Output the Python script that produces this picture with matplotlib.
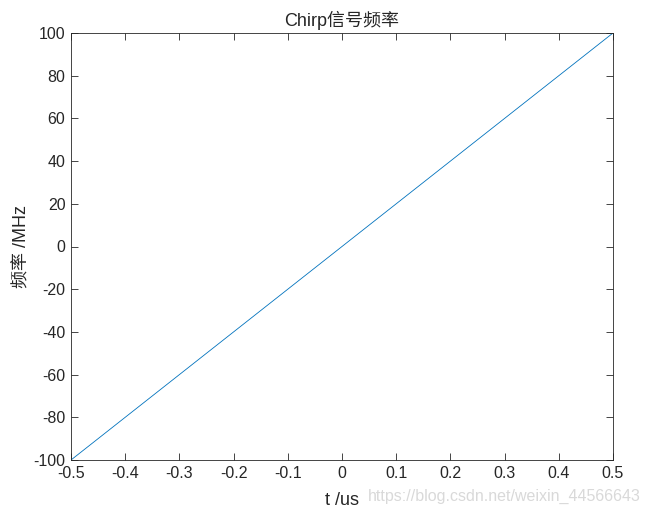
import matplotlib
matplotlib.use("Agg")
from matplotlib import pyplot as plt

plt.rcParams['font.family'] = ['Liberation Sans', 'Noto Sans CJK SC']
plt.rcParams['font.size'] = 11
plt.rcParams['axes.unicode_minus'] = False

# chirp frequency endpoints (linear sweep)
t_us = [-0.5, 0.5]
freq_mhz = [-100, 100]
x_ticks = [-0.5, -0.4, -0.3, -0.2, -0.1, 0, 0.1, 0.2, 0.3, 0.4, 0.5]
y_ticks = [-100, -80, -60, -40, -20, 0, 20, 40, 60, 80, 100]

fig = plt.figure(figsize=(6.49, 5.14), dpi=100)
ax = fig.add_axes([71/649, 54/514, 542/649, 427/514])

ax.plot(t_us, freq_mhz, color="#0072BD", linewidth=0.6)
ax.set_xlim(-0.5, 0.5)
ax.set_ylim(-100, 100)
ax.set_xticks(x_ticks)
ax.set_xticklabels([f"{v:g}" for v in x_ticks])
ax.set_yticks(y_ticks)
ax.tick_params(direction="in", top=True, right=True, length=5, width=0.6,
               labelsize=11.5, colors="#262626", pad=4)
for s in ax.spines.values():
    s.set_linewidth(0.6)
    s.set_color("#262626")

ax.set_title("Chirp信号频率", fontsize=13, color="#262626", pad=5)
ax.set_xlabel("t /us", fontsize=13, color="#262626", labelpad=8)
ax.set_ylabel("频率 /MHz", fontsize=13, color="#262626", labelpad=2)

fig.text(0.987, 0.035, "https://blog.csdn.net/weixin_44566643", ha="right", va="center",
         fontsize=11.5, color="#d9d9d9")

fig.savefig("out.png", dpi=100)
